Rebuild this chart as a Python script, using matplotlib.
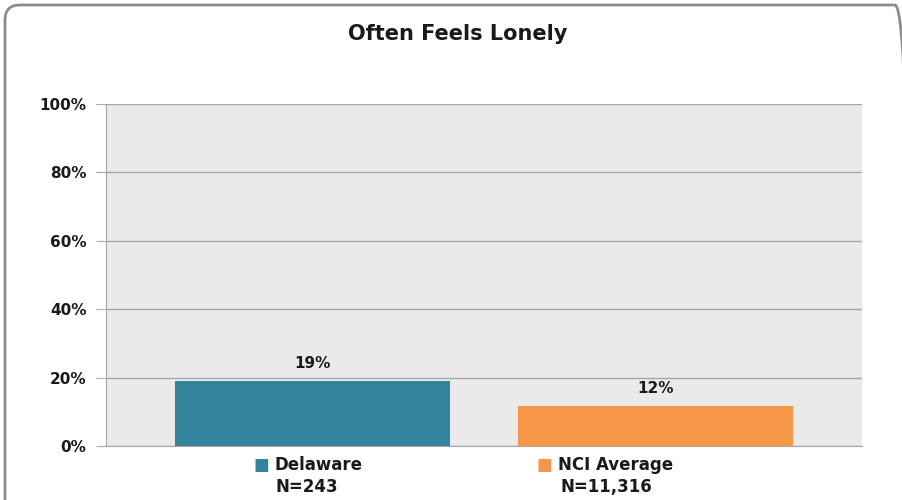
import matplotlib.pyplot as plt
from matplotlib.patches import FancyBboxPatch

# chart data
groups = ['Delaware', 'NCI Average']
sample_sizes = ['N=243', 'N=11,316']
values = [18.9, 11.6]
bar_colors = ['#31849B', '#F79646']
y_ticks = [0, 20, 40, 60, 80, 100]

plt.rcParams['font.family'] = ['DejaVu Sans']

fig = plt.figure(figsize=(9.02, 5.0), dpi=100)

# rounded border around the whole chart (inches)
border = FancyBboxPatch((0.05, -0.2), 9.05, 5.15, boxstyle='round,pad=0,rounding_size=0.15',
                        transform=fig.dpi_scale_trans, fill=False, edgecolor='#8C8C8C',
                        linewidth=2)
fig.patches.append(border)

ax = fig.add_axes([0.1175, 0.108, 0.838, 0.684])
ax.set_facecolor('#EAEAEA')

x = list(range(len(groups)))
bars = ax.bar(x, values, width=0.8, color=bar_colors, zorder=3)

for xi, v in zip(x, values):
    ax.text(xi, v + 3, f'{v:.0f}%', ha='center', va='bottom', fontsize=11,
            fontweight='bold', color='#1A1A1A')

ax.set_xlim(-0.6, 1.6)
ax.set_ylim(0, 100)
ax.set_yticks(y_ticks)
ax.set_yticklabels([f'{t}%' for t in y_ticks], fontsize=11, fontweight='bold', color='#1A1A1A')
ax.yaxis.grid(True, color='#A6A6A6', linewidth=1, zorder=0)
ax.tick_params(axis='y', length=7, color='#A6A6A6', pad=7)
ax.set_xticks([])

for side in ['top', 'right']:
    ax.spines[side].set_visible(False)
ax.spines['left'].set_color('#A6A6A6')
ax.spines['bottom'].set_color('#A6A6A6')

# legend-style category labels under the bars
trans = ax.get_xaxis_transform()
label_x = [-0.125, 0.70]
nx = [-0.015, 0.855]
for lx, nxx, g, n, c in zip(label_x, nx, groups, sample_sizes, bar_colors):
    ax.text(lx, -0.055, '\u25A0', transform=trans, ha='right', va='center',
            fontsize=12, color=c, clip_on=False)
    ax.text(lx + 0.015, -0.055, g, transform=trans, ha='left', va='center',
            fontsize=12, fontweight='bold', color='#1A1A1A', clip_on=False)
    ax.text(nxx, -0.12, n, transform=trans, ha='center', va='center',
            fontsize=12, fontweight='bold', color='#1A1A1A', clip_on=False)

fig.text(0.507, 0.932, 'Often Feels Lonely', ha='center', va='center',
         fontsize=15, fontweight='bold', color='#1A1A1A')

fig.savefig('out.png', dpi=100)
